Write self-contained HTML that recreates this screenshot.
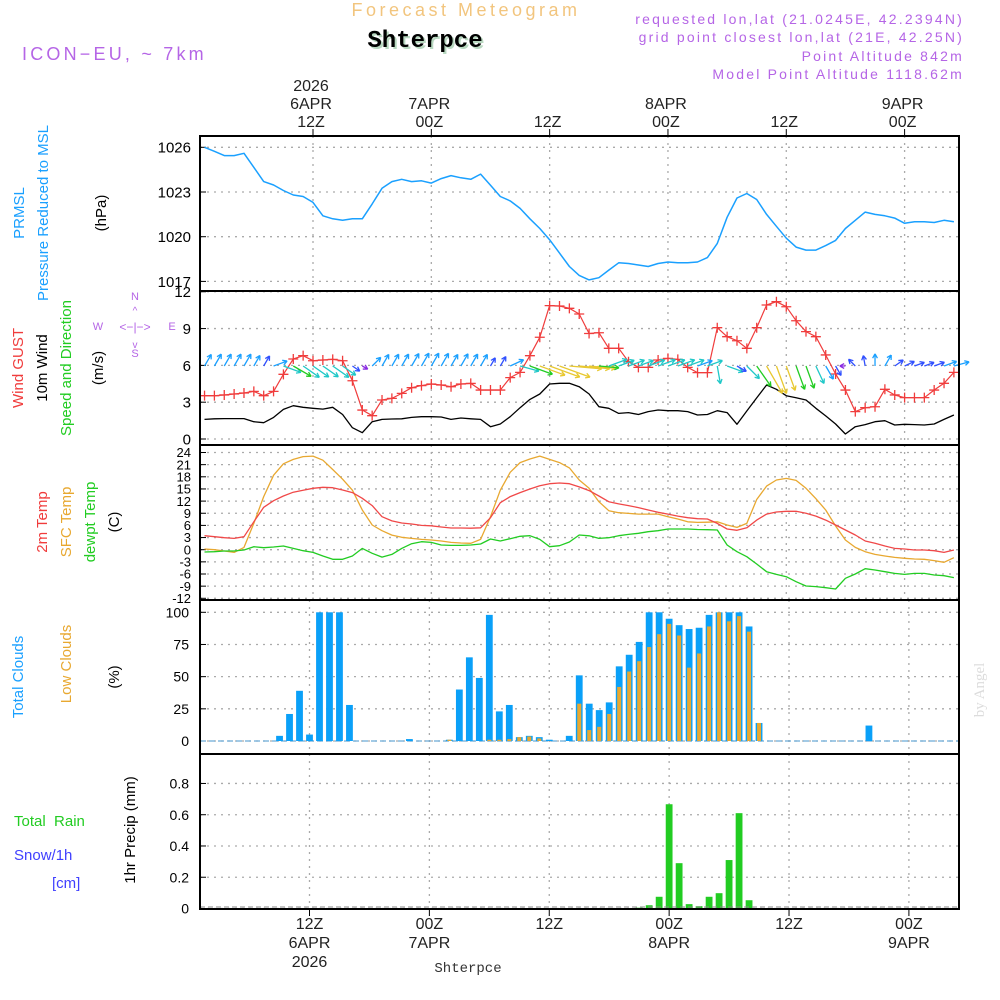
<!DOCTYPE html>
<html><head><meta charset="utf-8"><style>
html,body{margin:0;padding:0;background:#fff;}
svg{display:block;font-family:"Liberation Sans",sans-serif;}
</style></head><body>
<svg id="chart" width="1000" height="1000" viewBox="0 0 1000 1000" xmlns="http://www.w3.org/2000/svg">
<rect x="0" y="0" width="1000" height="1000" fill="#fff"/>
<text x="466" y="16" font-size="18" fill="#f2c57e" text-anchor="middle" letter-spacing="3.5">Forecast Meteogram</text>
<text x="427" y="49" font-size="24" font-weight="bold" fill="#b8d8c0" text-anchor="middle" font-family="Liberation Mono, monospace">Shterpce</text>
<text x="425" y="47" font-size="24" font-weight="bold" fill="#000" text-anchor="middle" font-family="Liberation Mono, monospace">Shterpce</text>
<text x="22" y="60" font-size="18" fill="#b565e6" letter-spacing="3.2">ICON−EU, ~ 7km</text>
<g font-size="14" fill="#b565e6" text-anchor="end" letter-spacing="2.2">
<text x="964" y="24">requested lon,lat (21.0245E, 42.2394N)</text>
<text x="964" y="42">grid point closest lon,lat (21E, 42.25N)</text>
<text x="964" y="61">Point Altitude 842m</text>
<text x="964" y="79">Model Point Altitude 1118.62m</text>
</g>
<g id="plots"></g>
<g font-size="15">
<text transform="translate(24,213) rotate(-90)" text-anchor="middle" fill="#1aa0ff">PRMSL</text>
<text transform="translate(48,213) rotate(-90)" text-anchor="middle" fill="#1aa0ff">Pressure Reduced to MSL</text>
<text transform="translate(106,213) rotate(-90)" text-anchor="middle" fill="#000">(hPa)</text>
<text transform="translate(23,368) rotate(-90)" text-anchor="middle" fill="#f03c3c">Wind GUST</text>
<text transform="translate(47,368) rotate(-90)" text-anchor="middle" fill="#000">10m Wind</text>
<text transform="translate(71,368) rotate(-90)" text-anchor="middle" fill="#22cc22">Speed and Direction</text>
<text transform="translate(103,368) rotate(-90)" text-anchor="middle" fill="#000">(m/s)</text>
<text transform="translate(47,522) rotate(-90)" text-anchor="middle" fill="#f03c3c">2m Temp</text>
<text transform="translate(71,522) rotate(-90)" text-anchor="middle" fill="#e8a830">SFC Temp</text>
<text transform="translate(95,522) rotate(-90)" text-anchor="middle" fill="#22cc22">dewpt Temp</text>
<text transform="translate(119,522) rotate(-90)" text-anchor="middle" fill="#000">(C)</text>
<text transform="translate(23,677) rotate(-90)" text-anchor="middle" fill="#1aa0ff">Total Clouds</text>
<text transform="translate(71,664) rotate(-90)" text-anchor="middle" fill="#e8a830">Low Clouds</text>
<text transform="translate(119,677) rotate(-90)" text-anchor="middle" fill="#000">(%)</text>
<text x="14" y="826" fill="#22cc22" xml:space="preserve">Total  Rain</text>
<text x="14" y="860" fill="#4040ff">Snow/1h</text>
<text x="52" y="888" fill="#4040ff">[cm]</text>
<text transform="translate(135,830) rotate(-90)" text-anchor="middle" fill="#000">1hr Precip (mm)</text>
</g>
<g fill="#b565e6" font-size="11" text-anchor="middle">
<text x="135" y="300">N</text><text x="135" y="357">S</text><text x="98" y="330">W</text><text x="172" y="330">E</text>
<text x="135" y="331" font-size="12">&lt;−|−&gt;</text>
<text x="135" y="314" font-size="10">^</text><text x="135" y="348" font-size="10">v</text>
</g>
<text transform="translate(984,690) rotate(-90)" text-anchor="middle" font-size="15" fill="#dcdcdc" font-family="Liberation Serif, serif">by Angel</text>
<text x="468" y="972" font-size="14" text-anchor="middle" font-family="Liberation Mono, monospace" fill="#333">Shterpce</text>
</svg>
<script>
const pressure=[1026.0,1025.73,1025.44,1025.44,1025.6,1024.66,1023.7,1023.47,1023.1,1022.8,1022.7,1022.3,1021.4,1021.2,1021.1,1021.2,1021.2,1022.2,1023.25,1023.7,1023.85,1023.7,1023.75,1023.6,1023.9,1024.1,1023.95,1023.85,1024.2,1023.45,1022.7,1022.4,1021.9,1021.2,1020.55,1019.8,1018.9,1018.0,1017.4,1017.1,1017.25,1017.76,1018.25,1018.2,1018.1,1018.0,1018.2,1018.3,1018.25,1018.25,1018.3,1018.6,1019.55,1021.3,1022.6,1022.9,1022.5,1021.5,1020.7,1019.9,1019.3,1019.1,1019.1,1019.4,1019.75,1020.55,1021.1,1021.65,1021.5,1021.4,1021.25,1020.9,1021.0,1021.0,1020.95,1021.1,1021.0];
const gust=[3.53,3.53,3.59,3.67,3.75,3.88,3.53,3.88,5.27,6.52,6.79,6.38,6.44,6.49,6.38,4.75,2.36,1.9,3.18,3.31,3.72,4.18,4.35,4.48,4.4,4.26,4.48,4.53,3.99,3.99,3.99,5.0,5.43,6.79,8.29,10.87,10.84,10.65,10.19,8.6,8.66,7.39,7.39,6.3,5.84,5.84,6.44,6.57,6.49,5.84,5.41,5.41,9.07,8.34,8.01,7.39,9.07,10.92,11.19,10.78,9.64,8.75,8.34,6.85,5.3,3.99,2.23,2.55,2.63,4.05,3.59,3.37,3.37,3.37,3.99,4.54,5.43];
const wind=[1.6,1.65,1.66,1.66,1.66,1.41,1.33,1.76,2.41,2.71,2.58,2.5,2.44,2.58,2.0,0.92,0.51,1.41,1.6,1.63,1.65,1.76,1.82,1.82,1.79,1.6,1.71,1.65,1.6,1.0,1.22,1.82,2.55,3.23,3.67,4.48,4.54,4.54,4.26,3.67,2.63,2.5,2.09,2.15,2.0,2.23,2.36,2.31,2.31,2.23,1.96,2.0,2.31,2.15,1.2,2.28,3.35,4.4,4.05,3.53,3.37,3.18,2.5,1.88,1.22,0.41,1.0,1.17,1.41,1.49,1.14,1.2,1.17,1.14,1.22,1.6,1.96];
const windDir=[60,60,60,60,60,60,60,20,-20,-30,-35,-35,-35,-35,-35,-35,-30,45,60,60,60,60,60,60,60,60,60,60,60,60,60,25,-15,-20,-20,-20,-20,-5,-5,-5,-5,20,20,20,20,20,20,20,20,20,20,20,-80,-20,-30,-45,-55,-60,-70,-70,-70,-70,-65,-60,-60,180,135,100,90,60,35,25,20,20,20,20,15];
const temp2m=[3.46,3.21,2.96,2.8,3.21,6.9,10.47,12.1,13.26,14.2,14.7,15.15,15.4,15.3,14.74,14.1,12.7,10.9,8.15,7.1,6.6,6.35,6.0,5.9,5.6,5.36,5.36,5.3,5.4,7.9,11.6,13.1,14.1,15.0,15.8,16.3,16.47,16.3,15.5,14.6,13.26,11.85,11.3,10.9,10.4,9.8,9.23,8.8,8.3,7.9,7.65,7.57,6.5,5.1,4.8,5.4,7.3,8.8,9.3,9.47,9.47,8.98,8.3,7.3,6.1,4.86,3.63,2.15,1.57,0.91,0.33,0.17,-0.08,-0.08,-0.25,-0.66,-0.08];
const sfcTemp=[0.17,0,-0.33,-0.66,0.58,6.5,13.1,18.4,21.2,22.3,23,23.1,22.1,19.8,17.4,14.7,9.8,6.1,4.7,3.6,3.05,2.8,2.55,2.4,2.15,1.8,1.65,1.57,2.55,8.15,14.7,19.1,21.5,22.4,23.1,22.3,21.5,20.2,17.2,15.15,11.85,9.63,9.14,8.97,8.8,8.8,8.8,8.15,7.57,6.9,6.75,6.8,6.9,6.1,5.5,6.5,12.4,15.7,17.2,17.6,17.1,15.15,12.6,9.8,5.85,2.4,0.58,-0.5,-1.15,-1.56,-1.89,-2.13,-2.3,-2.37,-2.7,-3.1,-1.97];
const dewpt=[-0.57,-0.5,-0.33,-0.33,-0.08,0.74,0.49,0.66,0.91,0.33,-0.25,-0.66,-1.56,-2.37,-2.37,-1.56,0.33,-0.9,-1.83,-1.15,0.33,1.48,1.98,1.81,1.16,1.07,1.07,1.16,1.4,2.64,2.15,2.72,3.3,3.46,2.55,0.74,0.99,1.9,3.63,3.42,2.8,2.97,3.46,3.79,4.04,4.45,4.7,5.1,5.1,5.1,5.0,4.95,4.86,1.16,-0.5,-1.73,-3.53,-5.43,-6.09,-6.67,-7.9,-8.96,-9.1,-9.38,-9.7,-7.07,-6.0,-4.69,-5.0,-5.43,-5.84,-6.09,-5.84,-5.84,-6.25,-6.42,-6.9];
const totalClouds=[0,0,0,0,0,0,0,0,4,21,39,5,100,100,100,28,0,0,0,0,0,1.5,0,0,0,1,40,65,49,98,23,28,3,4,3,1,0,4,51,29,24,30,58,67,77,100,100,95,90,87,88,98,100,100,100,89,14,0,0,0,0,0,0,0,0,0,0,12,0,0,0,0,0,0,0,0,0];
const lowClouds=[0,0,0,0,0,0,0,0,0,0,0,0,0,0,0,0,0,0,0,0,0,0,0,0,0,1,0,0,0,1,1,1.5,3,3.5,2,0,0,0,29,8.5,11,21,42,54,62,73,83,91,82,57,68,89,100,93,97,85,14,0,0,0,0,0,0,0,0,0,0,0,0,0,0,0,0,0,0,0,0];
const precip=[0,0,0,0,0,0,0,0,0,0,0,0,0,0,0,0,0,0,0,0,0,0,0,0,0,0,0,0,0,0,0,0,0,0,0,0,0,0,0,0,0,0,0,0,0.005,0.021,0.075,0.667,0.29,0.028,0.015,0.075,0.098,0.31,0.61,0.053,0,0,0,0,0,0,0,0,0,0,0,0,0,0,0,0,0,0,0,0,0];
const pressureTicks=[1026,1023,1020,1017];
const windTicks=[12,9,6,3,0];
const tempTicks=[24,21,18,15,12,9,6,3,0,-3,-6,-9,-12];
const cloudTicks=[100,75,50,25,0];
const precipTicks=[0.8,0.6,0.4,0.2,0];
const timeLabels=["12Z","00Z","12Z","00Z","12Z","00Z"];
const dateLabels=["6APR","7APR","","8APR","","9APR"];
const firstHour=1;

const NS="http://www.w3.org/2000/svg";
const root=document.getElementById('plots');
function mk(tag,attrs,parent){const e=document.createElementNS(NS,tag);for(const k in attrs)e.setAttribute(k,attrs[k]);(parent||root).appendChild(e);return e;}
const X0=200,X1=959;
const xa=t=>313+(t-12)*9.86;
const xb=t=>309.5+(t-12)*9.99;
const yP=p=>147.3+(1026-p)*14.9;
const yW=v=>439-v*12.27;
const yT=c=>549.7-c*4.05;
const yC=c=>741-c*1.287;
const yR=r=>908.5-r*156.3;
const panels=[[136,291,xa],[291,445,xa],[445,600,xa],[600,754,xb],[754,909,xb]];
const gridHours=[12,24,36,48,60,72];

panels.forEach((p,i)=>{
  gridHours.forEach(h=>{
    const l=mk('line',{x1:p[2](h),x2:p[2](h),y1:p[0],y2:p[1],stroke:'#aaa','stroke-width':1.3,'stroke-dasharray':'2 5'});
    
    
  });
});
function hgrid(ticks,yf,labelX,fs,pname){
  ticks.forEach(v=>{
    const y=yf(v);
    const l=mk('line',{x1:X0,x2:X1,y1:y,y2:y,stroke:'#aaa','stroke-width':1.3,'stroke-dasharray':'2 5'});
    
    
    const tk=mk('line',{x1:X0,x2:X0+6,y1:y,y2:y,stroke:'#000','stroke-width':1});
    
    
    const t=mk('text',{x:labelX,y:y+fs*0.36,'font-size':fs,'text-anchor':'end',fill:'#000'});
    t.textContent=String(v);
    
    
  });
}
hgrid(pressureTicks,yP,191,15,'pressure');
hgrid(windTicks,yW,191,15,'wind');
hgrid(tempTicks,yT,191,13,'temp');
hgrid(cloudTicks,yC,189,14,'cloud');
hgrid(precipTicks,yR,189,14,'precip');

function poly(arr,xf,yf,color,w,name){
  const pts=arr.map((v,i)=>xf(firstHour+i).toFixed(1)+','+yf(v).toFixed(1)).join(' ');
  const pl=mk('polyline',{points:pts,fill:'none',stroke:color,'stroke-width':w,'stroke-linejoin':'round'});
  
  
}
poly(pressure,xa,yP,'#1aa0ff',1.5,'pressure-line');
poly(wind,xa,yW,'#000',1.3,'wind-speed-line');
poly(gust,xa,yW,'#f03c3c',1.2,'wind-gust-line');
gust.forEach((v,i)=>{
  const x=xa(firstHour+i),y=yW(v);
  const m=mk('path',{d:`M${x-5},${y}H${x+5}M${x},${y-5}V${y+5}`,stroke:'#f03c3c','stroke-width':1.3});
  
  
});
function wcol(s){if(s<0.8)return '#8a2be2';if(s<1.4)return '#3050ff';if(s<2.0)return '#1aa0ff';if(s<2.6)return '#20c8c8';if(s<3.4)return '#22cc22';return '#e8c830';}
wind.forEach((s,i)=>{
  const x=xa(firstHour+i),y=366;
  const a=windDir[i]*Math.PI/180,L=3+s*6.5;
  const x2=x+L*Math.cos(a),y2=y-L*Math.sin(a);
  const h1=a+Math.PI-0.5,h2=a+Math.PI+0.5;
  const d=`M${x},${y}L${x2},${y2}M${x2},${y2}L${x2+5*Math.cos(h1)},${y2-5*Math.sin(h1)}M${x2},${y2}L${x2+5*Math.cos(h2)},${y2-5*Math.sin(h2)}`;
  const ar=mk('path',{d:d,stroke:wcol(s),'stroke-width':1.3,fill:'none'});
  
  
});
poly(sfcTemp,xa,yT,'#e8a830',1.3,'sfc-temp-line');
poly(temp2m,xa,yT,'#f04848',1.3,'temp-2m-line');
poly(dewpt,xa,yT,'#22cc22',1.3,'dewpt-line');

const zl=mk('line',{x1:X0,x2:X1,y1:yC(0),y2:yC(0),stroke:'#6aaad8','stroke-width':1.2,'stroke-dasharray':'6 3'});


totalClouds.forEach((v,i)=>{
  if(v<=0)return;
  const x=xb(firstHour+i);
  const r=mk('rect',{x:x-3.4,y:yC(v),width:6.8,height:yC(0)-yC(v),fill:'#0aa0f8'});
  
  
});
lowClouds.forEach((v,i)=>{
  if(v<=0)return;
  const x=xb(firstHour+i);
  const r=mk('rect',{x:x-2,y:yC(v),width:4,height:yC(0)-yC(v),fill:'#e8a830'});
  
  
});
precip.forEach((v,i)=>{
  if(v<=0)return;
  const x=xb(firstHour+i);
  const r=mk('rect',{x:x-3.4,y:yR(v),width:6.8,height:yR(0)-yR(v),fill:'#22cc22'});
  
  
});
const pz=mk('line',{x1:X0,x2:X1,y1:907,y2:907,stroke:'#888','stroke-width':1,'stroke-dasharray':'5 3'});



panels.forEach((p,i)=>{
  const r=mk('rect',{x:X0,y:p[0],width:X1-X0,height:p[1]-p[0],fill:'none',stroke:'#000','stroke-width':2});
  
  
});
gridHours.forEach((h,i)=>{
  const xt=xa(h),xbt=xb(h);
  const t1=mk('line',{x1:xt,x2:xt,y1:129,y2:136,stroke:'#000','stroke-width':1});
  
  
  const t2=mk('line',{x1:xbt,x2:xbt,y1:909,y2:916,stroke:'#000','stroke-width':1});
  
  
  const lt=mk('text',{x:xt-2,y:127,'font-size':16,'text-anchor':'middle',fill:'#222'});
  lt.textContent=timeLabels[i];
  
  
  const lb=mk('text',{x:xbt,y:929,'font-size':16,'text-anchor':'middle',fill:'#222'});
  lb.textContent=timeLabels[i];
  
  
  if(dateLabels[i]){
    const dt=mk('text',{x:xt-2,y:109,'font-size':16,'text-anchor':'middle',fill:'#222'});
    dt.textContent=dateLabels[i];
    
    
    const db=mk('text',{x:xbt,y:948,'font-size':16,'text-anchor':'middle',fill:'#222'});
    db.textContent=dateLabels[i];
    
    
  }
});
const yt=mk('text',{x:xa(12)-2,y:91,'font-size':16,'text-anchor':'middle',fill:'#222'});
yt.textContent='2026';


const yb=mk('text',{x:xb(12),y:967,'font-size':16,'text-anchor':'middle',fill:'#222'});
yb.textContent='2026';


</script>
</body></html>
